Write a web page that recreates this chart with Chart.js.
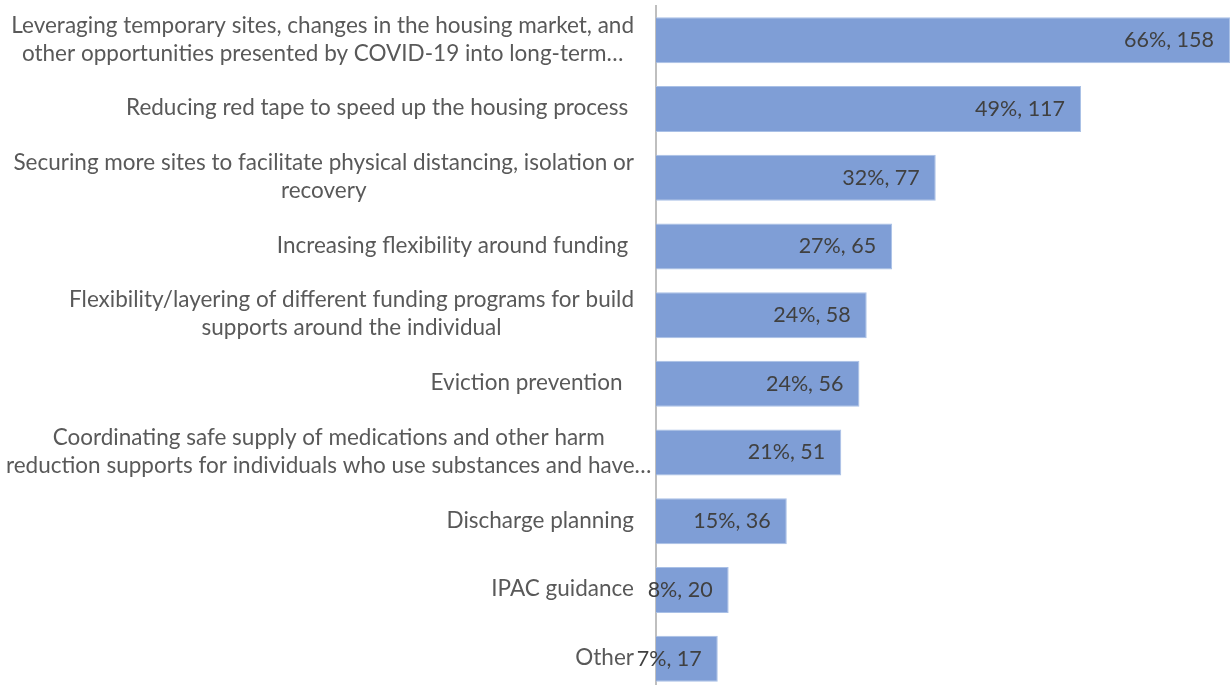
<!DOCTYPE html>
<html>
<head>
<meta charset="utf-8">
<script src="https://cdn.jsdelivr.net/npm/chart.js@4/dist/chart.umd.min.js"></script>
<style>
    html, body { margin: 0; padding: 0; background: #fff; overflow: hidden; }
    #chartWrap { width: 1231px; height: 693px; }
</style>
</head>
<body>
<div id="chartWrap"><canvas id="barChart" width="1231" height="693"></canvas></div>
<script>
// Categories (each entry is the lines of one label, as wrapped in the source)
const categories = [
    ['Leveraging temporary sites, changes in the housing market, and', 'other opportunities presented by COVID-19 into long-term\u2026'],
    ['Reducing red tape to speed up the housing process '],
    ['Securing more sites to facilitate physical distancing, isolation or', 'recovery'],
    ['Increasing flexibility around funding '],
    ['Flexibility/layering of different funding programs for build', 'supports around the individual'],
    ['Eviction prevention  '],
    ['Coordinating safe supply of medications and other harm', 'reduction supports for individuals who use substances and have\u2026'],
    ['Discharge planning'],
    ['IPAC guidance'],
    ['Other']
];
const counts = [158, 117, 77, 65, 58, 56, 51, 36, 20, 17];
const percents = ['66%', '49%', '32%', '27%', '24%', '24%', '21%', '15%', '8%', '7%'];

const LABEL_FONT = '22.5px Lato, "Liberation Sans", sans-serif';
const VALUE_FONT = '21.5px Lato, "Liberation Sans", sans-serif';

// Draws the category labels: block right-aligned at the axis, lines centered inside it
const categoryLabels = {
    id: 'categoryLabels',
    afterDraw(chart) {
        const ctx = chart.ctx;
        const yScale = chart.scales.y;
        const rightEdge = chart.chartArea.left - 22;
        const lineHeight = 28;
        ctx.save();
        ctx.font = LABEL_FONT;
        ctx.fillStyle = '#595959';
        ctx.textBaseline = 'middle';
        ctx.textAlign = 'center';
        categories.forEach((lines, i) => {
            const widths = lines.map(l => ctx.measureText(l).width);
            const blockW = Math.max(...widths);
            // keep long blocks inside the canvas (they spill past the axis gap instead)
            const cx = Math.max(rightEdge - blockW / 2, 6 + blockW / 2);
            const cy = yScale.getPixelForValue(i) - 1;
            const startY = cy - (lines.length - 1) * lineHeight / 2;
            lines.forEach((l, j) => ctx.fillText(l, cx, startY + j * lineHeight));
        });
        ctx.restore();
    }
};

// Draws "pct, count" inside the end of each bar
const valueLabels = {
    id: 'valueLabels',
    afterDatasetsDraw(chart) {
        const ctx = chart.ctx;
        const meta = chart.getDatasetMeta(0);
        ctx.save();
        ctx.font = VALUE_FONT;
        ctx.fillStyle = '#404040';
        ctx.textAlign = 'right';
        ctx.textBaseline = 'middle';
        meta.data.forEach((bar, i) => {
            ctx.fillText(percents[i] + ', ' + counts[i], bar.x - 16, bar.y);
        });
        ctx.restore();
    }
};

const ctx = document.getElementById('barChart').getContext('2d');
new Chart(ctx, {
    type: 'bar',
    data: {
        labels: categories.map(c => c.join(' ')),
        datasets: [{
            data: counts,
            backgroundColor: '#7F9ED6',
            borderColor: '#A9C0E6',
            borderWidth: 1,
            barPercentage: 1,
            categoryPercentage: 0.67
        }]
    },
    options: {
        indexAxis: 'y',
        responsive: false,
        animation: false,
        layout: {
            padding: { top: 6, right: 1, bottom: 0, left: 0 }
        },
        plugins: {
            legend: { display: false },
            tooltip: { enabled: false }
        },
        scales: {
            x: {
                display: false,
                min: 0,
                max: 158
            },
            y: {
                ticks: { display: false },
                grid: { display: false },
                border: { color: '#BFBFBF', width: 2 },
                afterFit(scale) { scale.width = 656; }
            }
        }
    },
    plugins: [categoryLabels, valueLabels]
});
</script>
</body>
</html>
